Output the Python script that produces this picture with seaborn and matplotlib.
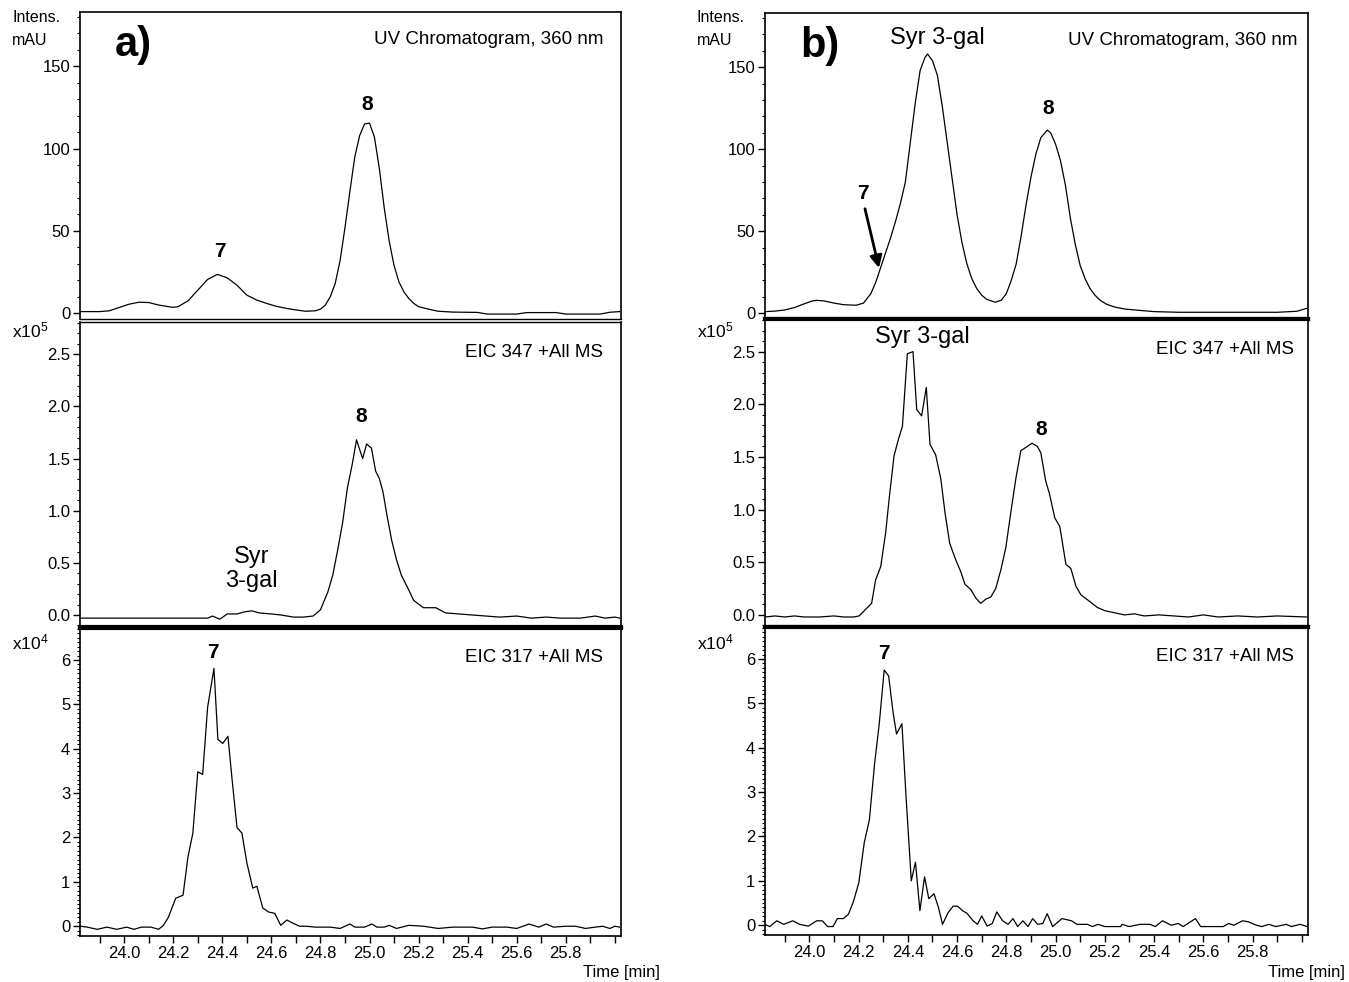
import numpy as np
import pandas as pd
import matplotlib
matplotlib.use("Agg")
import matplotlib.pyplot as plt
import seaborn as sns
from matplotlib.ticker import FixedLocator, MultipleLocator, FuncFormatter

# ---------------- data ----------------
# a) UV chromatogram 360 nm (mAU)
uv_a_t = [23.82, 23.86, 23.90, 23.94, 23.98, 24.02, 24.06, 24.10, 24.14, 24.18, 24.20, 24.22,
          24.26, 24.30, 24.34, 24.38, 24.42, 24.46, 24.50, 24.54, 24.58, 24.62, 24.66, 24.70,
          24.74, 24.78, 24.80, 24.82, 24.84, 24.86, 24.88, 24.90, 24.92, 24.94, 24.96, 24.98,
          25.00, 25.02, 25.04, 25.06, 25.08, 25.10, 25.12, 25.14, 25.16, 25.18, 25.20, 25.24,
          25.28, 25.34, 25.44, 25.48, 25.60, 25.64, 25.76, 25.80, 25.94, 25.98, 26.02]
uv_a_v = [1.0, 1.0, 1.0, 1.5, 3.5, 5.5, 6.7, 6.5, 5.0, 4.0, 3.6, 4.0,
          7.5, 14, 20.5, 23.6, 21.5, 17, 11, 8, 6, 4.2, 3.0, 2.0,
          1.2, 1.5, 2.5, 5, 10, 18, 32, 52, 74, 95, 108, 115,
          115.5, 107, 88, 64, 44, 29, 19, 13, 9, 6, 4, 2.5,
          1.2, 0.7, 0.5, -0.5, -0.5, 0.4, 0.4, -0.5, -0.5, 0.6, 1.0]

# a) EIC 347 (x1e5)
eic347_a_t = [23.82, 24.00, 24.20, 24.34, 24.36, 24.39, 24.42, 24.46, 24.49, 24.52, 24.55, 24.60,
              24.64, 24.69, 24.73, 24.77, 24.80, 24.83, 24.85, 24.87, 24.89, 24.91, 24.93, 24.947,
              24.972, 24.988, 25.008, 25.025, 25.04, 25.055, 25.07, 25.09, 25.11, 25.13, 25.16,
              25.18, 25.22, 25.27, 25.31, 25.42, 25.53, 25.60, 25.66, 25.72, 25.78, 25.86, 25.92,
              25.96, 26.00, 26.02]
eic347_a_v = [-0.03, -0.03, -0.03, -0.03, -0.01, -0.04, 0.01, 0.01, 0.03, 0.04, 0.02, 0.01,
              0.00, -0.02, -0.02, -0.01, 0.05, 0.22, 0.38, 0.62, 0.88, 1.22, 1.45, 1.68,
              1.50, 1.64, 1.60, 1.38, 1.31, 1.18, 0.97, 0.72, 0.53, 0.38, 0.24,
              0.14, 0.07, 0.07, 0.02, 0.00, -0.02, -0.01, -0.03, -0.02, -0.03, -0.03, -0.01,
              -0.03, -0.02, -0.03]

# a) EIC 317 (x1e4)
eic317_a_t = [23.82, 23.85, 23.89, 23.93, 23.97, 24.01, 24.04, 24.07, 24.11, 24.14, 24.16, 24.18,
              24.21, 24.24, 24.26, 24.28, 24.30, 24.32, 24.34, 24.366, 24.382, 24.402, 24.423,
              24.44, 24.46, 24.48, 24.50, 24.524, 24.541, 24.565, 24.589, 24.614, 24.638, 24.663,
              24.687, 24.715, 24.74, 24.78, 24.84, 24.88, 24.92, 24.94, 24.98, 25.01, 25.03, 25.06,
              25.08, 25.11, 25.16, 25.22, 25.28, 25.34, 25.42, 25.46, 25.50, 25.56, 25.60, 25.65,
              25.69, 25.72, 25.75, 25.80, 25.84, 25.88, 25.92, 25.95, 25.98, 26.00, 26.02]
eic317_a_v = [0.00, -0.02, -0.07, -0.02, -0.07, -0.02, -0.07, -0.02, -0.02, -0.07, 0.02, 0.20,
              0.63, 0.70, 1.56, 2.10, 3.48, 3.42, 4.93, 5.81, 4.21, 4.12, 4.28,
              3.30, 2.22, 2.10, 1.43, 0.86, 0.90, 0.41, 0.32, 0.29, 0.02, 0.14,
              0.07, 0.00, 0.00, -0.02, -0.02, -0.05, 0.05, -0.02, -0.02, 0.05, -0.02, -0.02,
              0.02, -0.05, 0.02, 0.00, -0.05, -0.02, -0.02, -0.06, -0.02, -0.02, -0.05, 0.05,
              -0.02, 0.05, -0.02, 0.00, 0.00, -0.05, -0.02, 0.00, -0.05, 0.00, -0.02]

# b) UV chromatogram 360 nm (mAU)
uv_b_t = [23.82, 23.86, 23.90, 23.94, 23.98, 24.01, 24.03, 24.06, 24.10, 24.14, 24.19, 24.22,
          24.25, 24.27, 24.29, 24.31, 24.33, 24.35, 24.37, 24.39, 24.41, 24.43, 24.45, 24.47,
          24.48, 24.50, 24.52, 24.54, 24.56, 24.58, 24.60, 24.62, 24.64, 24.66, 24.68, 24.70,
          24.72, 24.755, 24.78, 24.80, 24.82, 24.84, 24.86, 24.88, 24.90, 24.92, 24.94, 24.966,
          24.98, 25.00, 25.02, 25.04, 25.06, 25.08, 25.10, 25.12, 25.14, 25.16, 25.18, 25.207,
          25.24, 25.28, 25.337, 25.40, 25.50, 25.90, 25.98, 26.02]
uv_b_v = [1.0, 1.3, 2.0, 3.5, 5.8, 7.4, 7.9, 7.5, 6.2, 5.2, 4.9, 6.2,
          12, 19, 28, 37, 46, 56, 67, 80, 104, 128, 148, 156,
          158, 154, 145, 126, 104, 82, 60, 43, 30, 21, 15, 11,
          8.5, 6.7, 8.0, 12, 20, 30, 47, 66, 83, 97, 107, 111.6,
          110, 103, 93, 78, 58, 42, 29, 21, 15, 11, 8, 5.5,
          3.8, 2.6, 1.8, 1.0, 0.6, 0.6, 1.2, 3.0]

# b) EIC 347 (x1e5)
eic347_b_t = [23.82, 23.86, 23.90, 23.94, 23.98, 24.04, 24.10, 24.14, 24.18, 24.202, 24.253, 24.269,
              24.29, 24.31, 24.324, 24.344, 24.362, 24.378, 24.398, 24.421, 24.436, 24.456, 24.475,
              24.49, 24.513, 24.534, 24.551, 24.57, 24.595, 24.615, 24.632, 24.656, 24.676, 24.696,
              24.717, 24.737, 24.757, 24.778, 24.798, 24.818, 24.839, 24.859, 24.879, 24.904, 24.926,
              24.94, 24.96, 24.974, 24.997, 25.017, 25.042, 25.062, 25.083, 25.103, 25.137, 25.17,
              25.20, 25.24, 25.28, 25.32, 25.36, 25.42, 25.48, 25.54, 25.60, 25.66, 25.74, 25.82,
              25.90, 26.02]
eic347_b_v = [-0.02, -0.01, -0.02, -0.01, -0.02, -0.02, -0.01, -0.02, -0.02, -0.01, 0.11, 0.33,
              0.46, 0.78, 1.10, 1.51, 1.67, 1.79, 2.48, 2.50, 1.95, 1.89, 2.16,
              1.62, 1.52, 1.29, 0.97, 0.68, 0.52, 0.41, 0.29, 0.24, 0.16, 0.11,
              0.15, 0.17, 0.25, 0.43, 0.64, 0.97, 1.30, 1.56, 1.59, 1.63, 1.60,
              1.54, 1.27, 1.16, 0.92, 0.84, 0.48, 0.44, 0.27, 0.19, 0.13, 0.07,
              0.04, 0.02, 0.00, 0.01, -0.01, 0.00, -0.01, -0.02, 0.00, -0.02, -0.01, -0.02,
              -0.01, -0.02]

# b) EIC 317 (x1e4)
eic317_b_t = [23.819, 23.839, 23.868, 23.896, 23.933, 23.961, 23.996, 24.030, 24.053, 24.074,
              24.096, 24.114, 24.138, 24.159, 24.180, 24.201, 24.223, 24.244, 24.265, 24.284,
              24.304, 24.322, 24.340, 24.354, 24.376, 24.392, 24.414, 24.431, 24.449, 24.468,
              24.485, 24.506, 24.524, 24.541, 24.563, 24.584, 24.602, 24.624, 24.640, 24.665,
              24.683, 24.700, 24.722, 24.743, 24.761, 24.785, 24.807, 24.827, 24.846, 24.867,
              24.888, 24.907, 24.927, 24.948, 24.966, 24.988, 25.026, 25.065, 25.087, 25.129,
              25.150, 25.172, 25.200, 25.264, 25.270, 25.299, 25.342, 25.384, 25.405, 25.434,
              25.470, 25.498, 25.518, 25.568, 25.589, 25.681, 25.703, 25.724, 25.759, 25.781,
              25.816, 25.837, 25.866, 25.894, 25.937, 25.957, 25.993, 26.022]
eic317_b_v = [0.02, -0.03, 0.10, 0.02, 0.10, 0.02, -0.02, 0.10, 0.10, -0.03,
              -0.03, 0.15, 0.15, 0.25, 0.55, 0.96, 1.86, 2.38, 3.64, 4.54,
              5.75, 5.62, 4.80, 4.31, 4.54, 2.97, 1.00, 1.42, 0.33, 1.09,
              0.60, 0.71, 0.41, 0.02, 0.28, 0.43, 0.43, 0.32, 0.27, 0.10,
              0.02, 0.21, -0.02, 0.04, 0.30, 0.10, 0.02, 0.15, -0.03, 0.10,
              -0.03, 0.15, 0.02, 0.04, 0.26, -0.03, 0.15, 0.10, 0.02, 0.02,
              -0.03, 0.02, -0.03, -0.03, 0.02, -0.03, 0.02, 0.02, -0.03, 0.10,
              0.00, 0.04, -0.03, 0.15, -0.03, -0.03, 0.04, 0.00, 0.10, 0.08,
              0.00, -0.03, 0.02, -0.03, 0.02, -0.03, 0.02, -0.03]

x_tick_labels = ["24.0", "24.2", "24.4", "24.6", "24.8", "25.0", "25.2", "25.4", "25.6", "25.8"]
trace_titles = ["UV Chromatogram, 360 nm", "EIC 347 +All MS", "EIC 317 +All MS"]

# ---------------- figure ----------------
sns.set_theme(style="white")
plt.rcParams['font.family'] = ['Liberation Sans', 'DejaVu Sans']
plt.rcParams['mathtext.fontset'] = 'custom'
plt.rcParams['mathtext.rm'] = 'Liberation Sans'
plt.rcParams['mathtext.it'] = 'Liberation Sans'
for k in ['text.color', 'axes.labelcolor', 'xtick.color', 'ytick.color', 'axes.edgecolor']:
    plt.rcParams[k] = 'black'

W, H = 1349, 982
fig = plt.figure(figsize=(W / 100, H / 100), dpi=100)


def px_axes(x0, y0, x1, y1):
    return fig.add_axes([x0 / W, 1 - y1 / H, (x1 - x0) / W, (y1 - y0) / H])


cols = {
    "a": dict(x0=80, x1=621, rows=[(12, 319), (322, 627), (628, 936)],
              seps=[(1.0, 1.0), (3.0, 3.0)], lab_x=12, time_right=660),
    "b": dict(x0=765, x1=1308, rows=[(13, 319), (319, 627), (627, 935)],
              seps=[(3.0, 3.0), (3.0, 3.0)], lab_x=697, time_right=1345),
}
series = {
    "a": [(uv_a_t, uv_a_v), (eic347_a_t, eic347_a_v), (eic317_a_t, eic317_a_v)],
    "b": [(uv_b_t, uv_b_v), (eic347_b_t, eic347_b_v), (eic317_b_t, eic317_b_v)],
}
ylims = [(-3.5, 183.0), (-0.115, 2.81), (-0.22, 6.72)]
ymajor = [[0, 50, 100, 150], [0.0, 0.5, 1.0, 1.5, 2.0, 2.5], [0, 1, 2, 3, 4, 5, 6]]
yminor = [10, 0.1, 0.1]
yfmt = ["{:.0f}", "{:.1f}", "{:.0f}"]

axes = {}
for key, c in cols.items():
    axes[key] = []
    for i, (y0, y1) in enumerate(c["rows"]):
        ax = px_axes(c["x0"], y0, c["x1"], y1)
        t, v = series[key][i]
        df = pd.DataFrame({"t": t, "v": v})
        sns.lineplot(data=df, x="t", y="v", ax=ax, color="black", linewidth=0.9,
                     estimator=None, sort=True)
        ax.set_xlim(23.82, 26.025)
        ax.set_ylim(*ylims[i])
        ax.set_xlabel("")
        ax.set_ylabel("")
        ax.yaxis.set_major_locator(FixedLocator(ymajor[i]))
        ax.yaxis.set_minor_locator(MultipleLocator(yminor[i]))
        f = yfmt[i]
        ax.yaxis.set_major_formatter(FuncFormatter(lambda val, pos, f=f: f.format(val)))
        ax.tick_params(axis="y", which="major", direction="out", length=5, width=1,
                       labelsize=12, pad=2, color="black", labelcolor="black", left=True)
        ax.tick_params(axis="y", which="minor", direction="out", length=2.5, width=0.8,
                       color="black", left=True)
        for s in ax.spines.values():
            s.set_color("black")
            s.set_linewidth(1.2)
        if i < 2:
            ax.set_xticks([])
            ax.xaxis.set_minor_locator(FixedLocator([]))
            ax.spines["bottom"].set_linewidth(c["seps"][i][0])
        if i > 0:
            ax.spines["top"].set_linewidth(c["seps"][i - 1][1])
        if i == 2:
            majors = [24.0 + 0.2 * k for k in range(10)]
            minors = [23.9 + 0.2 * k for k in range(11)] + [26.0]
            ax.xaxis.set_major_locator(FixedLocator(majors))
            ax.xaxis.set_minor_locator(FixedLocator(minors))
            ax.set_xticklabels(x_tick_labels)
            ax.tick_params(axis="x", which="both", direction="out", length=5, width=1,
                           labelsize=12, pad=2, color="black", labelcolor="black",
                           bottom=True)
        ax.set_facecolor("white")
        ax.grid(False)
        axes[key].append(ax)

    # axis annotations in figure space
    lx = c["lab_x"] / W
    fig.text(lx, 1 - 18 / H, "Intens.", fontsize=11.5, va="center", ha="left")
    fig.text(lx, 1 - 41 / H, "mAU", fontsize=11.5, va="center", ha="left")
    fig.text(lx, 1 - 330 / H, r"x10$^{5}$", fontsize=12.5, va="center", ha="left")
    fig.text(lx, 1 - 642 / H, r"x10$^{4}$", fontsize=12.5, va="center", ha="left")
    fig.text(c["time_right"] / W, 1 - 973 / H, "Time [min]", fontsize=12,
             va="center", ha="right")

    # trace titles
    axes[key][0].text(0.968 if key == "a" else 0.98, 0.91, trace_titles[0],
                      transform=axes[key][0].transAxes, ha="right", va="center", fontsize=13.5)
    axes[key][1].text(0.967 if key == "a" else 0.974, 0.90, trace_titles[1],
                      transform=axes[key][1].transAxes, ha="right", va="center", fontsize=13.5)
    axes[key][2].text(0.967 if key == "a" else 0.974, 0.903, trace_titles[2],
                      transform=axes[key][2].transAxes, ha="right", va="center", fontsize=13.5)

# panel letters
axes["a"][0].text(0.098, 0.893, "a)", transform=axes["a"][0].transAxes, fontsize=30,
                  fontweight="bold", ha="center", va="center")
axes["b"][0].text(0.101, 0.892, "b)", transform=axes["b"][0].transAxes, fontsize=30,
                  fontweight="bold", ha="center", va="center")

bold = dict(fontsize=15, fontweight="bold", ha="center", va="center")
reg = dict(fontsize=17, ha="center", va="center")

# a) annotations
axes["a"][0].text(24.39, 37.6, "7", **bold)
axes["a"][0].text(24.99, 127, "8", **bold)
axes["a"][1].text(24.965, 1.90, "8", **bold)
axes["a"][1].text(24.52, 0.44, "Syr\n3-gal", linespacing=1.1, **reg)
axes["a"][2].text(24.363, 6.16, "7", **bold)

# b) annotations
axes["b"][0].text(24.518, 168, "Syr 3-gal", **reg)
axes["b"][0].text(24.969, 125, "8", **bold)
axes["b"][0].text(24.217, 73, "7", **bold)
axes["b"][0].annotate("", xy=(24.283, 27.6), xytext=(24.226, 63.7),
                      arrowprops=dict(arrowstyle="-|>", lw=2.0, color="black",
                                      mutation_scale=18, shrinkA=0, shrinkB=0))
axes["b"][1].text(24.461, 2.64, "Syr 3-gal", **reg)
axes["b"][1].text(24.941, 1.76, "8", **bold)
axes["b"][2].text(24.303, 6.12, "7", **bold)

fig.savefig("out.png", dpi=100, facecolor="white")
